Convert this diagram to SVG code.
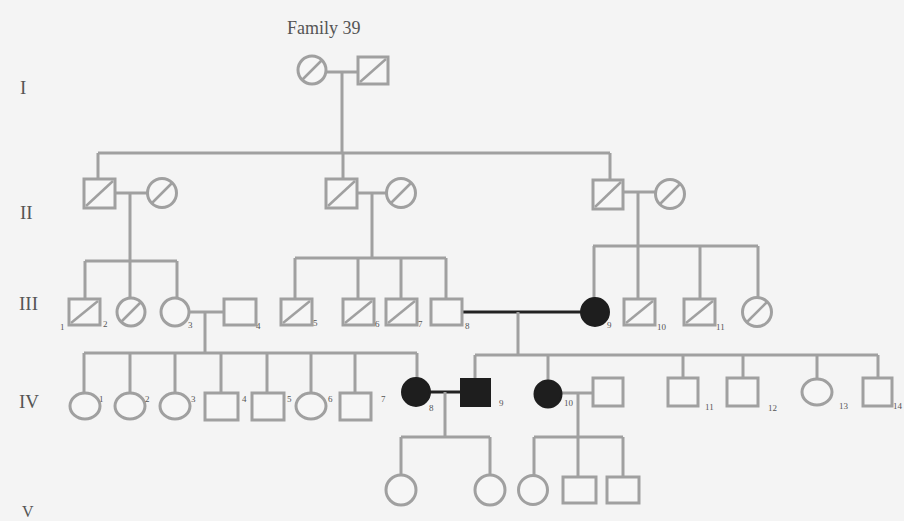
<svg xmlns="http://www.w3.org/2000/svg" width="904" height="521" viewBox="0 0 904 521">
<style>
.ln{stroke:#a0a0a0;stroke-width:3;fill:none}
.bold{stroke:#222;stroke-width:3;fill:none}
.sh{stroke:#a0a0a0;stroke-width:3;fill:#f6f6f6}
.aff{stroke:#1e1e1e;stroke-width:2;fill:#1e1e1e}
.sl{stroke:#a0a0a0;stroke-width:2.5}
.gen{font-family:"Liberation Serif",serif;font-size:19px;fill:#555}
.num{font-family:"Liberation Serif",serif;font-size:9px;fill:#555}
.title{font-family:"Liberation Serif",serif;font-size:18px;fill:#555}
</style>
<rect width="904" height="521" fill="#f4f4f4"/>
<text class="title" x="287" y="34">Family 39</text>
<g id="labels">
<text class="gen" x="20" y="94">I</text>
<text class="gen" x="20" y="219">II</text>
<text class="gen" x="19" y="310">III</text>
<text class="gen" x="19" y="408">IV</text>
<text class="gen" x="22" y="517" style="font-size:16px">V</text>
</g>
<g id="connectors">
<path class="ln" d="M326 72H358M342 72V153M98 153H610M98 153V179M343 153V179M610 153V180"/>
<path class="ln" d="M115 193H147M130 193V261M85 261H177M85 261V299M130 261V297M177 261V297"/>
<path class="ln" d="M357 193H386M372 193V258M295 258H446M295 258V299M358 258V299M401 258V299M446 258V299"/>
<path class="ln" d="M623 192H655M638 192V299M593 246H758M594 246V298M700 246V299M758 246V297"/>
<path class="ln" d="M190 312H224M205 312V353M84 353H417M84 353V393M130 353V393M175 353V393M221 353V393M267 353V393M311 353V393M355 353V393M417 353V378"/>
<path class="bold" d="M462 312H581"/>
<path class="ln" d="M518 312V355M475 355H878M475 355V378M548 355V380M683 355V378M743 355V378M817 355V379M878 355V378"/>
<path class="bold" d="M430 392H460"/>
<path class="ln" d="M445 392V437M401 437H490M401 437V475M490 437V475"/>
<path class="ln" d="M562 393H593M578 393V477M534 437H623M534 437V475M623 437V477"/>
</g>
<g id="I-1"><circle class="sh" cx="312" cy="70" r="14"/><line class="sl" x1="302" y1="80" x2="322" y2="60"/></g>
<g id="I-2"><rect class="sh" x="358" y="57" width="30" height="27"/><line class="sl" x1="360" y1="82" x2="386" y2="59"/></g>
<g id="II-1"><rect class="sh" x="84" y="179" width="31" height="29"/><line class="sl" x1="86" y1="206" x2="113" y2="181"/></g>
<g id="II-2"><circle class="sh" cx="162" cy="193" r="14.5"/><line class="sl" x1="152" y1="203" x2="172" y2="183"/></g>
<g id="II-3"><rect class="sh" x="326" y="179" width="31" height="29"/><line class="sl" x1="328" y1="206" x2="355" y2="181"/></g>
<g id="II-4"><circle class="sh" cx="401" cy="193" r="14.5"/><line class="sl" x1="391" y1="203" x2="411" y2="183"/></g>
<g id="II-5"><rect class="sh" x="593" y="180" width="30" height="29"/><line class="sl" x1="595" y1="207" x2="621" y2="182"/></g>
<g id="II-6"><circle class="sh" cx="670" cy="194" r="14.5"/><line class="sl" x1="660" y1="204" x2="680" y2="184"/></g>
<g id="III-1"><rect class="sh" x="69" y="299" width="31" height="26"/><line class="sl" x1="71" y1="323" x2="98" y2="301"/><text class="num" x="60" y="330">1</text></g>
<g id="III-2"><circle class="sh" cx="131" cy="312" r="14"/><line class="sl" x1="121" y1="322" x2="141" y2="302"/><text class="num" x="103" y="327">2</text></g>
<g id="III-3"><circle class="sh" cx="175" cy="312" r="14"/><text class="num" x="188" y="328">3</text></g>
<g id="III-4"><rect class="sh" x="224" y="299" width="32" height="26"/><text class="num" x="256" y="329">4</text></g>
<g id="III-5"><rect class="sh" x="281" y="299" width="31" height="26"/><line class="sl" x1="283" y1="323" x2="310" y2="301"/><text class="num" x="313" y="326">5</text></g>
<g id="III-6"><rect class="sh" x="343" y="299" width="31" height="26"/><line class="sl" x1="345" y1="323" x2="372" y2="301"/><text class="num" x="375" y="327">6</text></g>
<g id="III-7"><rect class="sh" x="386" y="299" width="31" height="26"/><line class="sl" x1="388" y1="323" x2="415" y2="301"/><text class="num" x="418" y="327">7</text></g>
<g id="III-8"><rect class="sh" x="431" y="299" width="31" height="26"/><text class="num" x="465" y="329">8</text></g>
<g id="III-9"><circle class="aff" cx="595" cy="312" r="14"/><text class="num" x="607" y="328">9</text></g>
<g id="III-10"><rect class="sh" x="624" y="299" width="31" height="26"/><line class="sl" x1="626" y1="323" x2="653" y2="301"/><text class="num" x="657" y="330">10</text></g>
<g id="III-11"><rect class="sh" x="684" y="299" width="31" height="26"/><line class="sl" x1="686" y1="323" x2="713" y2="301"/><text class="num" x="716" y="330">11</text></g>
<g id="III-12"><circle class="sh" cx="757" cy="312" r="14.5"/><line class="sl" x1="747" y1="322" x2="767" y2="302"/></g>
<g id="IV-1"><ellipse class="sh" cx="85" cy="406" rx="15" ry="13"/><text class="num" x="99" y="402">1</text></g>
<g id="IV-2"><ellipse class="sh" cx="130" cy="406" rx="15" ry="13"/><text class="num" x="145" y="402">2</text></g>
<g id="IV-3"><ellipse class="sh" cx="175" cy="406" rx="15" ry="13"/><text class="num" x="191" y="402">3</text></g>
<g id="IV-4"><rect class="sh" x="205" y="393" width="33" height="27"/><text class="num" x="242" y="402">4</text></g>
<g id="IV-5"><rect class="sh" x="252" y="393" width="32" height="27"/><text class="num" x="287" y="402">5</text></g>
<g id="IV-6"><ellipse class="sh" cx="311" cy="406" rx="15" ry="13"/><text class="num" x="328" y="402">6</text></g>
<g id="IV-7"><rect class="sh" x="340" y="393" width="31" height="27"/><text class="num" x="381" y="402">7</text></g>
<g id="IV-8"><circle class="aff" cx="416" cy="392" r="14"/><text class="num" x="429" y="411">8</text></g>
<g id="IV-9"><rect class="aff" x="461" y="379" width="29" height="27"/><text class="num" x="499" y="406">9</text></g>
<g id="IV-10"><circle class="aff" cx="548" cy="394" r="13.5"/><text class="num" x="564" y="406">10</text></g>
<g id="IV-10s"><rect class="sh" x="593" y="378" width="30" height="28"/></g>
<g id="IV-11"><rect class="sh" x="668" y="378" width="30" height="28"/><text class="num" x="705" y="410">11</text></g>
<g id="IV-12"><rect class="sh" x="727" y="378" width="31" height="28"/><text class="num" x="768" y="411">12</text></g>
<g id="IV-13"><ellipse class="sh" cx="817" cy="392" rx="15" ry="13"/><text class="num" x="839" y="409">13</text></g>
<g id="IV-14"><rect class="sh" x="863" y="378" width="29" height="28"/><text class="num" x="893" y="409">14</text></g>
<g id="V-1"><circle class="sh" cx="401" cy="490" r="15"/></g>
<g id="V-2"><circle class="sh" cx="490" cy="490" r="15"/></g>
<g id="V-3"><circle class="sh" cx="533" cy="490" r="14.5"/></g>
<g id="V-4"><rect class="sh" x="563" y="477" width="33" height="26"/></g>
<g id="V-5"><rect class="sh" x="607" y="477" width="32" height="26"/></g>
</svg>
